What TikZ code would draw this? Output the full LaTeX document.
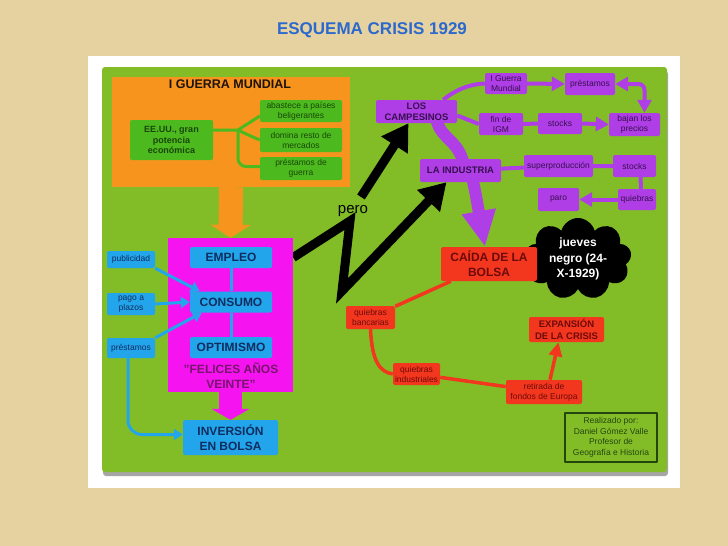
\documentclass[tikz,border=0pt]{standalone}
\usepackage{fontspec}
\setmainfont{Liberation Sans}
\usetikzlibrary{arrows.meta,backgrounds,shapes.symbols}
\pgfdeclarelayer{papel}
\pgfsetlayers{papel,background,main}
\definecolor{fondo}{RGB}{229,210,160}
\definecolor{panel}{RGB}{130,189,40}
\definecolor{naranja}{RGB}{247,148,30}
\definecolor{verdecaja}{RGB}{76,186,30}
\definecolor{verdetexto}{RGB}{25,70,10}
\definecolor{rosa}{RGB}{245,20,240}
\definecolor{rosatexto}{RGB}{120,20,110}
\definecolor{azulcaja}{RGB}{35,165,235}
\definecolor{azultexto}{RGB}{15,45,95}
\definecolor{morado}{RGB}{175,62,230}
\definecolor{moradotexto}{RGB}{55,15,80}
\definecolor{rojo}{RGB}{242,55,30}
\definecolor{rojotexto}{RGB}{110,10,10}
\definecolor{titulo}{RGB}{45,105,205}
\definecolor{firma}{RGB}{35,70,15}

\begin{document}
\begin{tikzpicture}[x=1pt,y=-1pt,line join=round,
    caja/.style={rectangle,rounded corners=2pt,align=center,inner sep=1pt,font=\fontsize{8.5}{10}\selectfont},
    cajaverde/.style={caja,fill=verdecaja,text=verdetexto},
    cajaazul/.style={caja,fill=azulcaja,text=azultexto},
    cajamorada/.style={caja,fill=morado,text=moradotexto},
    cajaroja/.style={caja,fill=rojo,text=rojotexto},
    grande/.style={font=\fontsize{12}{15}\selectfont\bfseries},
    media/.style={font=\fontsize{9.5}{11.5}\selectfont\bfseries},
    lverde/.style={draw=verdecaja,line width=3pt},
    lazul/.style={draw=azulcaja,line width=3pt},
    lmorada/.style={draw=morado,line width=4pt},
    lroja/.style={draw=rojo,line width=3.5pt},
    flechaazul/.style={arrows={-Triangle[length=9pt,width=11pt]}},
    flechamorada/.style={arrows={-Triangle[length=13pt,width=14pt]}},
    ambas/.style={arrows={Triangle[length=13pt,width=14pt]-Triangle[length=13pt,width=14pt]}},
    flecharoja/.style={arrows={-Triangle[length=14pt,width=13pt]}},
    negra/.style={draw=black,line width=9pt,arrows={-Triangle[length=26pt,width=30pt]}}]
\useasboundingbox (0,0) rectangle (728,546);
% papel, marco y panel
\begin{pgfonlayer}{papel}
  \fill[fondo] (0,0) rectangle (728,546);
  \fill[white] (88,56) rectangle (680,488);
  \fill[black!35,rounded corners=3pt] (103,71) rectangle (668,476);
  \fill[panel,rounded corners=3pt] (102,67) rectangle (667,472);
\end{pgfonlayer}
\node[font=\fontsize{17}{20}\selectfont\bfseries,text=titulo] (titulo) at (372,30) {ESQUEMA CRISIS 1929};

% I Guerra Mundial
\node[fill=naranja,minimum width=238pt,minimum height=110pt] (guerra) at (231,132) {};
\node[font=\fontsize{12.5}{14}\selectfont\bfseries,text=black!85!brown] (guerratit) at (230,84) {I GUERRA MUNDIAL};
\node[cajaverde,font=\fontsize{9}{10.5}\selectfont\bfseries,minimum width=83pt,minimum height=40pt] (eeuu) at (171.5,140) {EE.UU., gran\\potencia\\económica};
\node[cajaverde,minimum width=82pt,minimum height=22pt] (abastece) at (301,111) {abastece a países\\beligerantes};
\node[cajaverde,minimum width=82pt,minimum height=24pt] (domina) at (301,140) {domina resto de\\mercados};
\node[cajaverde,minimum width=82pt,minimum height=23pt] (prestguerra) at (301,168.5) {préstamos de\\guerra};
\coordinate (nudo) at (238,130);
\draw[lverde] (eeuu.east |- nudo) -- (nudo) -- ([yshift=-5pt]abastece.west);
\draw[lverde] (nudo) .. controls (246,134) .. (domina.west);
\draw[lverde,rounded corners=8pt] (nudo) |- ([yshift=2pt]prestguerra.west);

% felices a\~nos veinte
\node[fill=rosa,minimum width=125pt,minimum height=154pt] (felices) at (230.5,315) {};
\node[cajaazul,grande,minimum width=82pt,minimum height=21pt] (empleo) at (231,257.5) {EMPLEO};
\node[cajaazul,grande,minimum width=82pt,minimum height=21pt] (consumo) at (231,302) {CONSUMO};
\node[cajaazul,grande,minimum width=82pt,minimum height=21pt] (optimismo) at (231,347.5) {OPTIMISMO};
\node[grande,text=rosatexto,align=center] (lema) at (231,376) {"FELICES AÑOS\\VEINTE"};
\node[cajaazul,grande,minimum width=95pt,minimum height=35pt] (inversion) at (230.5,437.5) {INVERSIÓN\\EN BOLSA};
\node[cajaazul,minimum width=48pt,minimum height=17pt] (publicidad) at (131,259.5) {publicidad};
\node[cajaazul,minimum width=48pt,minimum height=22pt] (plazos) at (131,304) {pago a\\plazos};
\node[cajaazul,minimum width=48pt,minimum height=20pt] (prestamos) at (131,348) {préstamos};
\draw[lazul] (empleo.south) -- (consumo.north);
\draw[lazul] (consumo.south) -- (optimismo.north);
\draw[lazul,flechaazul] (publicidad.south east) -- ([xshift=10pt]consumo.north west);
\draw[lazul,flechaazul] (plazos.east) -- (consumo.west);
\draw[lazul,flechaazul] (prestamos.north east) -- ([xshift=12pt]consumo.south west);
\draw[lazul,flechaazul,rounded corners=14pt] ([xshift=-3pt]prestamos.south) |- ([yshift=3pt]inversion.west);

% campesinos e industria
\node[cajamorada,media,minimum width=81pt,minimum height=23pt] (campesinos) at (416.5,111.5) {LOS\\CAMPESINOS};
\node[cajamorada,minimum width=42pt,minimum height=21pt] (igm) at (506,83.5) {I Guerra\\Mundial};
\node[cajamorada,minimum width=50pt,minimum height=22pt] (prestamosm) at (590,84) {préstamos};
\node[cajamorada,minimum width=44pt,minimum height=22pt] (finigm) at (501,124) {fin de\\IGM};
\node[cajamorada,minimum width=44pt,minimum height=21pt] (stocksc) at (560,123.5) {stocks};
\node[cajamorada,minimum width=51pt,minimum height=23pt] (bajan) at (634.5,124.5) {bajan los\\precios};
\node[cajamorada,media,minimum width=81pt,minimum height=23pt] (industria) at (460.5,170.5) {LA INDUSTRIA};
\node[cajamorada,minimum width=69pt,minimum height=22pt] (superprod) at (558.5,166) {superproducción};
\node[cajamorada,minimum width=43pt,minimum height=22pt] (stocksi) at (634.5,166) {stocks};
\node[cajamorada,minimum width=38pt,minimum height=21pt] (quiebras) at (637,199.5) {quiebras};
\node[cajamorada,minimum width=41pt,minimum height=23pt] (paro) at (558.5,199.5) {paro};
\node[font=\fontsize{15}{15}\selectfont] (pero) at (353,211) {pero};

% caida de la bolsa
\node[cloud,cloud puffs=9,aspect=1.3,fill=black,text=white,align=center,inner sep=0pt,
      font=\fontsize{12}{15.5}\selectfont\bfseries,minimum width=107pt,minimum height=82pt] (jueves) at (578,259) {jueves\\negro (24-\\X-1929)};
\node[cajaroja,grande,minimum width=96pt,minimum height=34pt] (caida) at (489,264) {CAÍDA DE LA\\BOLSA};
\node[cajaroja,minimum width=49pt,minimum height=23pt] (qbancarias) at (370.5,317.5) {quiebras\\bancarias};
\node[cajaroja,media,minimum width=75pt,minimum height=25pt] (expansion) at (566.5,329.5) {EXPANSIÓN\\DE LA CRISIS};
\node[cajaroja,minimum width=47pt,minimum height=22pt] (qindustriales) at (416.5,374) {quiebras\\industriales};
\node[cajaroja,minimum width=76pt,minimum height=24pt] (retirada) at (544,392) {retirada de\\fondos de Europa};
\node[draw=firma,line width=1.2pt,text=firma,align=center,font=\fontsize{8.5}{10.5}\selectfont,
      minimum width=92pt,minimum height=49pt] (autor) at (611,437.5) {Realizado por:\\Daniel Gómez Valle\\Profesor de\\Geografía e Historia};

\begin{scope}[on background layer]
  % flechas gruesas
  \draw[naranja,line width=24pt,arrows={-Triangle[length=13pt,width=40pt]}] (guerra.south) -- (felices.north);
  \draw[rosa,line width=23pt,arrows={-Triangle[length=11pt,width=38pt]}] (felices.south) -- (inversion.north);
  % morado
  \draw[lmorada] ([xshift=-14pt]campesinos.north east) .. controls (458,88) and (472,84) .. (igm.west);
  \draw[lmorada,flechamorada] (igm.east) -- (prestamosm.west);
  \draw[lmorada,ambas,rounded corners=6pt] (prestamosm.east) -| ([xshift=10pt]bajan.north);
  \draw[lmorada] ([yshift=-4pt]campesinos.east) -- (finigm.west);
  \draw[lmorada] (finigm) -- (stocksc);
  \draw[lmorada,flechamorada] (stocksc.east) -- (bajan.west);
  \draw[lmorada] (industria) -- (superprod) -- (stocksi);
  \draw[lmorada] ([xshift=6pt]stocksi.center) -- ([xshift=4pt]quiebras.center);
  \draw[lmorada,flechamorada] (quiebras.west) -- (paro.east);
  \draw[morado,line width=12pt] ([xshift=20pt,yshift=4pt]campesinos.south) .. controls (440,140) and (462,140) .. ([xshift=4pt]industria.center);
  \draw[morado,line width=12pt,arrows={-Triangle[length=36pt,width=32pt]}] ([xshift=10pt]industria.center) .. controls (475,190) .. ([xshift=-4pt]caida.north);
  % negras
  \coordinate (pico) at (350,221);
  \coordinate (valle) at (342,291);
  \coordinate (salida) at (361,197);
  \draw[negra] (felices.east |- empleo) -- (pico) -- (valle) -- ([xshift=-14pt]industria.south);
  \draw[negra] (salida) -- ([xshift=-8pt]campesinos.south);
  % rojo
  \draw[lroja] (caida) -- (qbancarias);
  \draw[lroja] (qbancarias.south) .. controls (372,362) and (380,372) .. (qindustriales.west);
  \draw[lroja] (qindustriales) -- (retirada);
  \draw[lroja,flecharoja] ([xshift=6pt]retirada.north) -- ([xshift=-8pt]expansion.south);
\end{scope}
\end{tikzpicture}
\end{document}
